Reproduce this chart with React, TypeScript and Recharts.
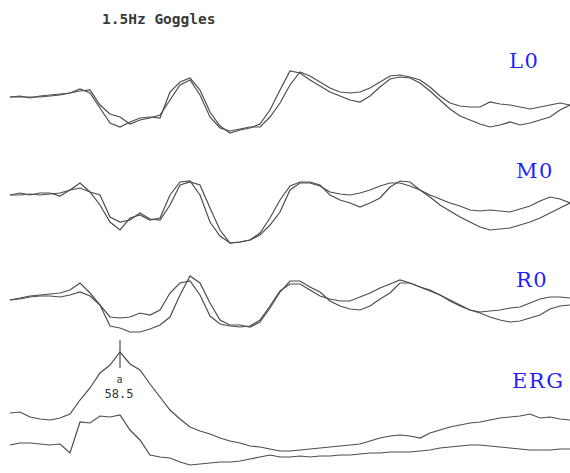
import React from "react";
import { LineChart, Line, XAxis, YAxis, ReferenceLine } from "recharts";

// time axis (ms), sampled every 5 ms
const times: number[] = Array.from({ length: 57 }, (_, i) => i * 5);

// amplitudes (arbitrary units, up = positive), two sweeps per channel
const L0a = [0,1,-1,1,2,3,4,8,4,-11,-26,-30,-25,-21,-20,-21,5,15,19,7,-15,-29,-36,-33,-31,-27,-13,7,26,24,17,11,5,1,-3,-5,1,10,18,20,19,14,6,-3,-12,-19,-23,-27,-30,-28,-25,-28,-26,-23,-20,-13,-8];
const L0b = [0,0,0,0,1,2,4,6,7,-8,-17,-20,-27,-23,-21,-18,-3,12,17,2,-20,-31,-34,-32,-30,-30,-20,-6,12,25,21,15,9,5,4,5,9,15,21,22,20,17,10,1,-6,-9,-10,-10,-5,-7,-8,-10,-12,-10,-8,-6,-8];
const M0a = [0,2,0,2,2,-1,5,12,3,-10,-27,-35,-23,-20,-25,-23,0,13,14,0,-27,-41,-48,-47,-45,-38,-23,-5,9,13,13,10,0,-5,-8,-12,-8,-3,8,14,13,5,-2,-10,-16,-22,-27,-32,-35,-34,-33,-30,-27,-23,-18,-13,-8];
const M0b = [0,0,1,0,1,2,5,7,3,0,-22,-27,-25,-18,-24,-25,-10,10,13,10,-13,-35,-48,-47,-45,-40,-30,-17,5,12,12,9,3,1,0,2,5,9,12,12,9,5,0,-4,-8,-11,-15,-16,-15,-16,-17,-14,-11,-6,-2,-4,-8];
const R0a = [0,2,4,5,6,7,10,17,7,-5,-26,-28,-32,-32,-29,-25,-17,5,24,17,-3,-20,-25,-25,-27,-22,-8,8,19,19,13,8,-1,-6,-9,-10,-6,1,7,17,17,13,10,5,0,-5,-10,-13,-17,-20,-22,-21,-18,-15,-9,-6,-5];
const R0b = [0,1,3,4,4,3,5,8,4,-5,-17,-18,-17,-13,-15,-10,7,17,19,5,-16,-24,-26,-27,-26,-20,-6,9,16,16,10,4,1,-1,-1,3,7,12,16,20,17,13,9,5,-1,-6,-10,-12,-11,-10,-8,-7,-3,1,3,3,2];
const ERGa = [17,18,13,11,10,12,16,30,42,57,65,78,66,60,46,33,20,11,3,-1,-4,-8,-11,-13,-16,-17,-19,-21,-21,-20,-19,-18,-17,-16,-15,-14,-11,-8,-6,-5,-6,-8,-3,0,3,5,7,8,10,12,13,14,16,12,13,11,10];
const ERGb = [-15,-13,-13,-14,-15,-14,-23,8,7,14,13,15,0,-10,-25,-27,-28,-32,-35,-34,-33,-32,-32,-31,-29,-27,-25,-27,-27,-26,-27,-26,-26,-25,-25,-24,-23,-23,-22,-22,-22,-21,-20,-18,-17,-16,-15,-15,-16,-17,-18,-19,-20,-20,-20,-19,-19];

// "a" wave marker
const markTime = 55;
const markTop = 90;
const markBottom = 62;
const markLetter = "a";
const markValue = "58.5";

const title = "1.5Hz Goggles";
const channelNames = ["L0", "M0", "R0", "ERG"];

// layout: vertical lane offsets of each channel
const lanes = [97, 195, 300, 430];
const series: number[][][] = [[L0a, L0b], [M0a, M0b], [R0a, R0b], [ERGa, ERGb]];

const data = times.map((t, i) => {
  const row: Record<string, number> = { t };
  series.forEach((pair, c) => {
    pair.forEach((arr, k) => {
      row[`s${c}_${k}`] = arr[i] - lanes[c];
    });
  });
  return row;
});

const W = 570;
const H = 473;
const stroke = "#4d4d4d";

const labelPos = [
  { x: 509, y: 68 },
  { x: 516, y: 178 },
  { x: 516, y: 287 },
  { x: 512, y: 388 },
];

export default function App() {
  return (
    <div style={{ position: "absolute", left: 0, top: 0, width: W, height: H, background: "#fff" }}>
      <LineChart width={W} height={H} data={data} margin={{ top: 0, right: 0, bottom: 0, left: 0 }}>
        <XAxis dataKey="t" type="number" domain={[-5, 280]} hide />
        <YAxis type="number" domain={[-H, 0]} hide />
        {series.map((pair, c) =>
          pair.map((_, k) => (
            <Line
              key={`s${c}_${k}`}
              dataKey={`s${c}_${k}`}
              type="linear"
              stroke={stroke}
              strokeWidth={1.2}
              dot={false}
              activeDot={false}
              isAnimationActive={false}
            />
          ))
        )}
        <ReferenceLine
          segment={[
            { x: markTime, y: markTop - lanes[3] },
            { x: markTime, y: markBottom - lanes[3] },
          ]}
          stroke={stroke}
          strokeWidth={1.2}
          ifOverflow="visible"
        />
      </LineChart>
      <svg width={W} height={H} style={{ position: "absolute", left: 0, top: 0, pointerEvents: "none" }}>
        <text x={102} y={24} fontFamily="DejaVu Sans Mono" fontWeight="bold" fontSize={14.5} fill="#3a3a3a">
          {title}
        </text>
        {channelNames.map((n, i) => (
          <text
            key={n}
            x={labelPos[i].x}
            y={labelPos[i].y}
            fontFamily="DejaVu Serif"
            fontSize={21}
            letterSpacing={1.5}
            fill="#1f1fff"
          >
            {n}
          </text>
        ))}
        <text x={119.5} y={383} textAnchor="middle" fontFamily="DejaVu Sans Mono" fontSize={10} fill="#333">
          {markLetter}
        </text>
        <text x={119} y={398} textAnchor="middle" fontFamily="DejaVu Sans Mono" fontSize={12} fill="#333">
          {markValue}
        </text>
      </svg>
    </div>
  );
}
